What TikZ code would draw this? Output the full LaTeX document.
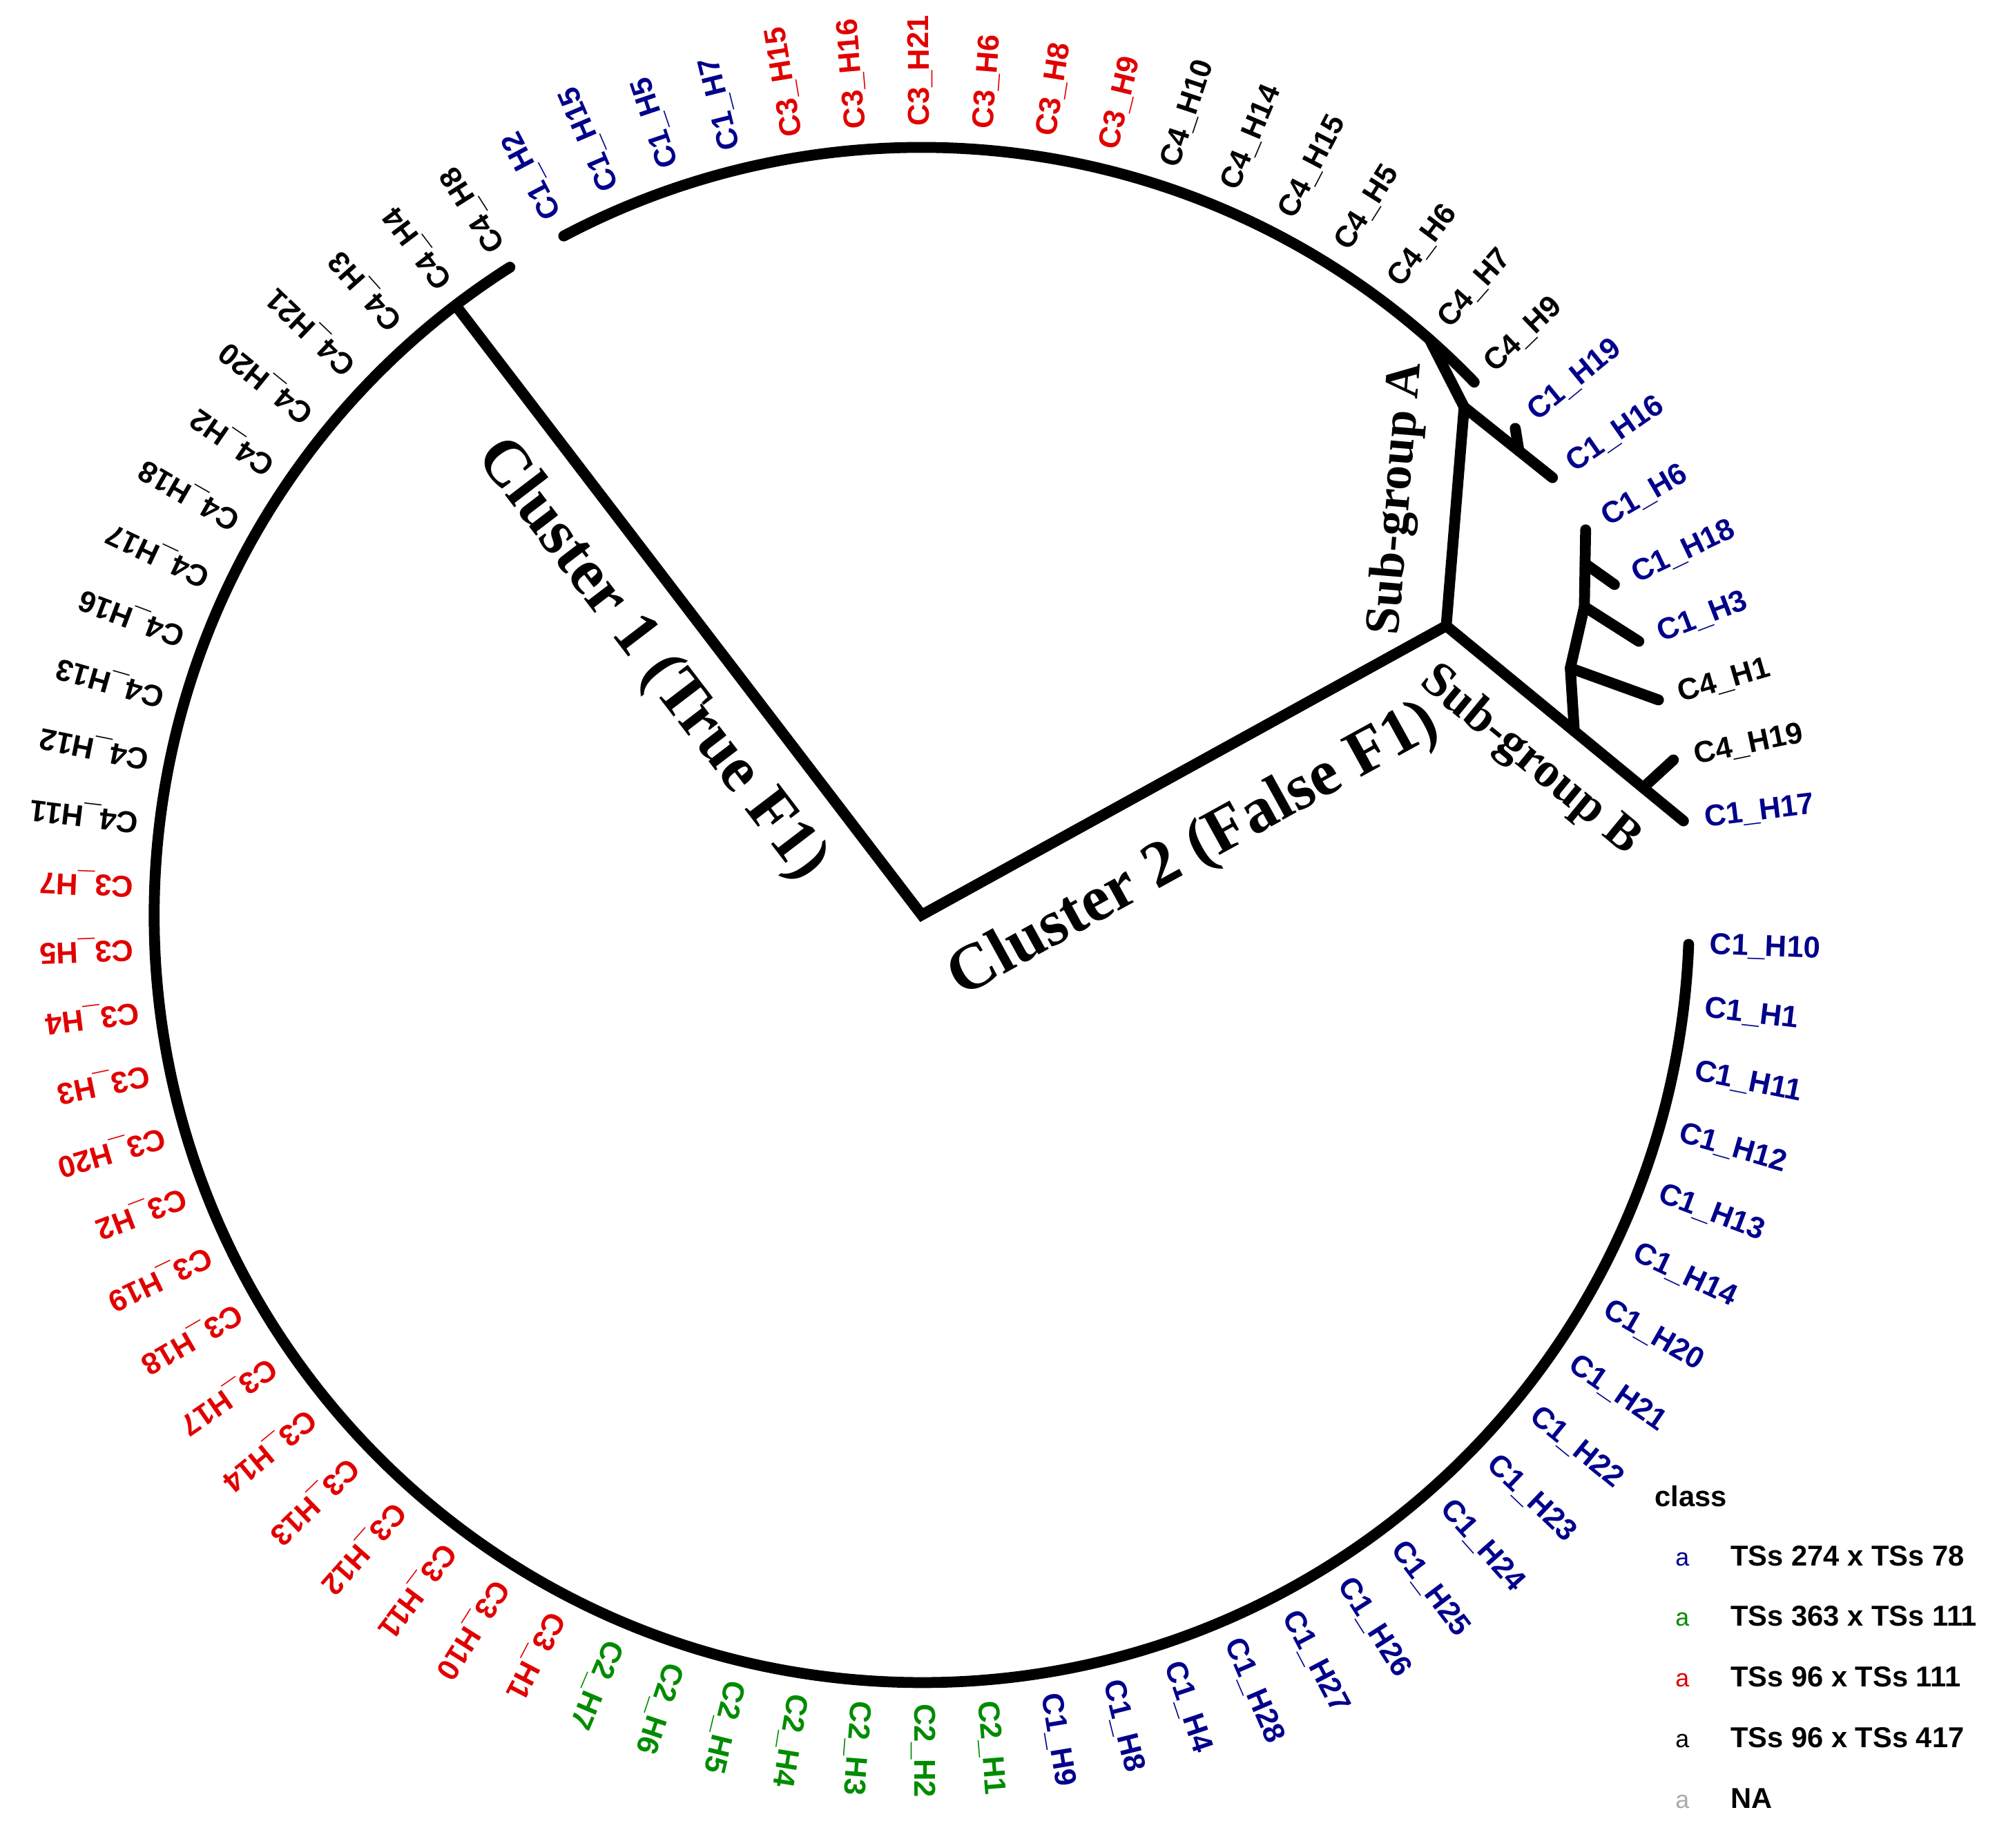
\documentclass[tikz,border=0pt]{standalone}
\usepackage{fontspec}
\setmainfont{Liberation Serif}
\setsansfont{Liberation Sans}
\usetikzlibrary{
  positioning,  % Legend entries "base right=of"
  calc,         % Points along branches $(a)!t!(b)$
}
\definecolor{cblue}{RGB}{0,0,139}
\definecolor{cgreen}{RGB}{0,139,0}
\definecolor{cred}{RGB}{225,0,0}
\definecolor{cgrey}{RGB}{170,170,170}
\def\mytiprad{6.0}
\def\mylabrad{6.16}
\def\mystep{4.615}
\def\myfirst{117.8}
\tikzset{
  branch/.style={
    line width=0.85mm,
    line cap=round,
    line join=round
  },
  tip label/.style={
    font=\sffamily\bfseries\fontsize{6.7}{7}\selectfont,
    inner sep=0mm,
    anchor=west
  },
  clade label/.style={
    font=\rmfamily\bfseries\fontsize{14.5}{16}\selectfont,
    sloped,
    inner sep=2mm
  },
  sub label/.style={
    font=\rmfamily\bfseries\fontsize{11}{12}\selectfont,
    sloped,
    inner sep=2mm
  },
  leg title/.style={
    font=\sffamily\bfseries\fontsize{6.4}{7}\selectfont,
    inner sep=0mm
  },
  leg key/.style={
    font=\sffamily\fontsize{5.5}{6}\selectfont,
    inner sep=0mm
  },
  leg text/.style={
    font=\sffamily\bfseries\fontsize{6.4}{7}\selectfont,
    inner sep=0mm
  }
}

\begin{document}
\begin{tikzpicture}
\useasboundingbox (-7.205,-7.288) rectangle (8.476,7.152);
% tips and their labels, clockwise from C1_H2
\foreach \name/\col [count=\i from 0] in {C1\_H2/cblue, C1\_H15/cblue, C1\_H5/cblue, C1\_H7/cblue,
    C3\_H15/cred, C3\_H16/cred, C3\_H21/cred, C3\_H6/cred, C3\_H8/cred, C3\_H9/cred,
    C4\_H10/black, C4\_H14/black, C4\_H15/black, C4\_H5/black, C4\_H6/black, C4\_H7/black, C4\_H9/black,
    C1\_H19/cblue, C1\_H16/cblue, C1\_H6/cblue, C1\_H18/cblue, C1\_H3/cblue,
    C4\_H1/black, C4\_H19/black, C1\_H17/cblue} {
  \pgfmathsetmacro{\ang}{\myfirst-\mystep*\i}
  \coordinate (tip\i) at (\ang:\mytiprad);
  \node[tip label, text=\col, rotate=\ang] (lab\i) at (\ang:\mylabrad) {\name};
}
\foreach \name/\col [count=\i from 26] in {C1\_H10/cblue, C1\_H1/cblue, C1\_H11/cblue, C1\_H12/cblue,
    C1\_H13/cblue, C1\_H14/cblue, C1\_H20/cblue, C1\_H21/cblue, C1\_H22/cblue, C1\_H23/cblue,
    C1\_H24/cblue, C1\_H25/cblue, C1\_H26/cblue, C1\_H27/cblue, C1\_H28/cblue, C1\_H4/cblue,
    C1\_H8/cblue, C1\_H9/cblue,
    C2\_H1/cgreen, C2\_H2/cgreen, C2\_H3/cgreen, C2\_H4/cgreen, C2\_H5/cgreen, C2\_H6/cgreen, C2\_H7/cgreen,
    C3\_H1/cred, C3\_H10/cred, C3\_H11/cred, C3\_H12/cred, C3\_H13/cred, C3\_H14/cred, C3\_H17/cred,
    C3\_H18/cred, C3\_H19/cred, C3\_H2/cred, C3\_H20/cred, C3\_H3/cred, C3\_H4/cred, C3\_H5/cred, C3\_H7/cred,
    C4\_H11/black, C4\_H12/black, C4\_H13/black, C4\_H16/black, C4\_H17/black, C4\_H18/black,
    C4\_H2/black, C4\_H20/black, C4\_H21/black, C4\_H3/black, C4\_H4/black, C4\_H8/black} {
  \pgfmathsetmacro{\ang}{\myfirst-\mystep*\i}
  \coordinate (tip\i) at (\ang:\mytiprad);
  \node[tip label, text=\col, rotate=\ang] (lab\i) at (\ang:\mylabrad) {\name};
}
% inner nodes
\coordinate (root) at (0,0);
\coordinate (clu1) at (127.4:5.97);
\coordinate (clu2) at (4.10,2.26);
\coordinate (subA) at (4.24,3.97);
\coordinate (subB) at ($(clu2)!0.54!(tip24)$);
\coordinate (h19)  at ($(subA)!0.62!(tip18)$);
\coordinate (b1)   at (5.07,1.93);
\coordinate (b2)   at (5.18,2.41);
\coordinate (b3)   at ($(b2)!0.56!(tip19)$);
\coordinate (b4)   at ($(clu2)!0.83!(tip24)$);
\pgfmathsetmacro{\angA}{\myfirst-26*\mystep}
\pgfmathsetmacro{\angB}{\myfirst-77*\mystep}
\pgfmathsetmacro{\angC}{\myfirst-16*\mystep}
% arcs
\draw[branch] (tip26) arc[start angle=\angA, end angle=\angB, radius=\mytiprad];
\draw[branch] (tip0) arc[start angle=\myfirst, end angle=\angC, radius=\mytiprad];
% clusters
\draw[branch, line join=miter]
  (clu1) -- node[clade label, below, pos=0.52] {Cluster 1 (True F1)} (root)
         -- node[clade label, below, pos=0.45, inner sep=3.2mm] {Cluster 2 (False F1)} (clu2);
% sub-group A
\draw[branch] (clu2) -- node[sub label, above, pos=0.56, inner sep=2.4mm] {Sub-group A} (subA) -- (tip15);
\draw[branch] (subA) -- (tip18);
\draw[branch] (h19) -- (tip17);
% sub-group B
\draw[branch] (clu2) -- node[sub label, below, pos=0.49, inner sep=1.8mm] {Sub-group B} (tip24);
\draw[branch] (subB) -- (b1) -- (b2) -- (tip19);
\draw[branch] (b1) -- (tip22);
\draw[branch] (b2) -- (tip21);
\draw[branch] (b3) -- (tip20);
\draw[branch] (b4) -- (tip23);
% legend
\node[leg title, anchor=base west] (legtitle) at (5.725,-4.622) {class};
\foreach \col/\txt [count=\j from 0] in {cblue/{TSs 274 x TSs 78}, cgreen/{TSs 363 x TSs 111},
    cred/{TSs 96 x TSs 111}, black/{TSs 96 x TSs 417}, cgrey/NA} {
  \node[leg key, text=\col, anchor=base] (key\j) at (5.946,-5.086-0.474*\j) {a};
  \node[leg text, base right=3.1mm of key\j] (ent\j) {\txt};
}
\end{tikzpicture}
\end{document}
